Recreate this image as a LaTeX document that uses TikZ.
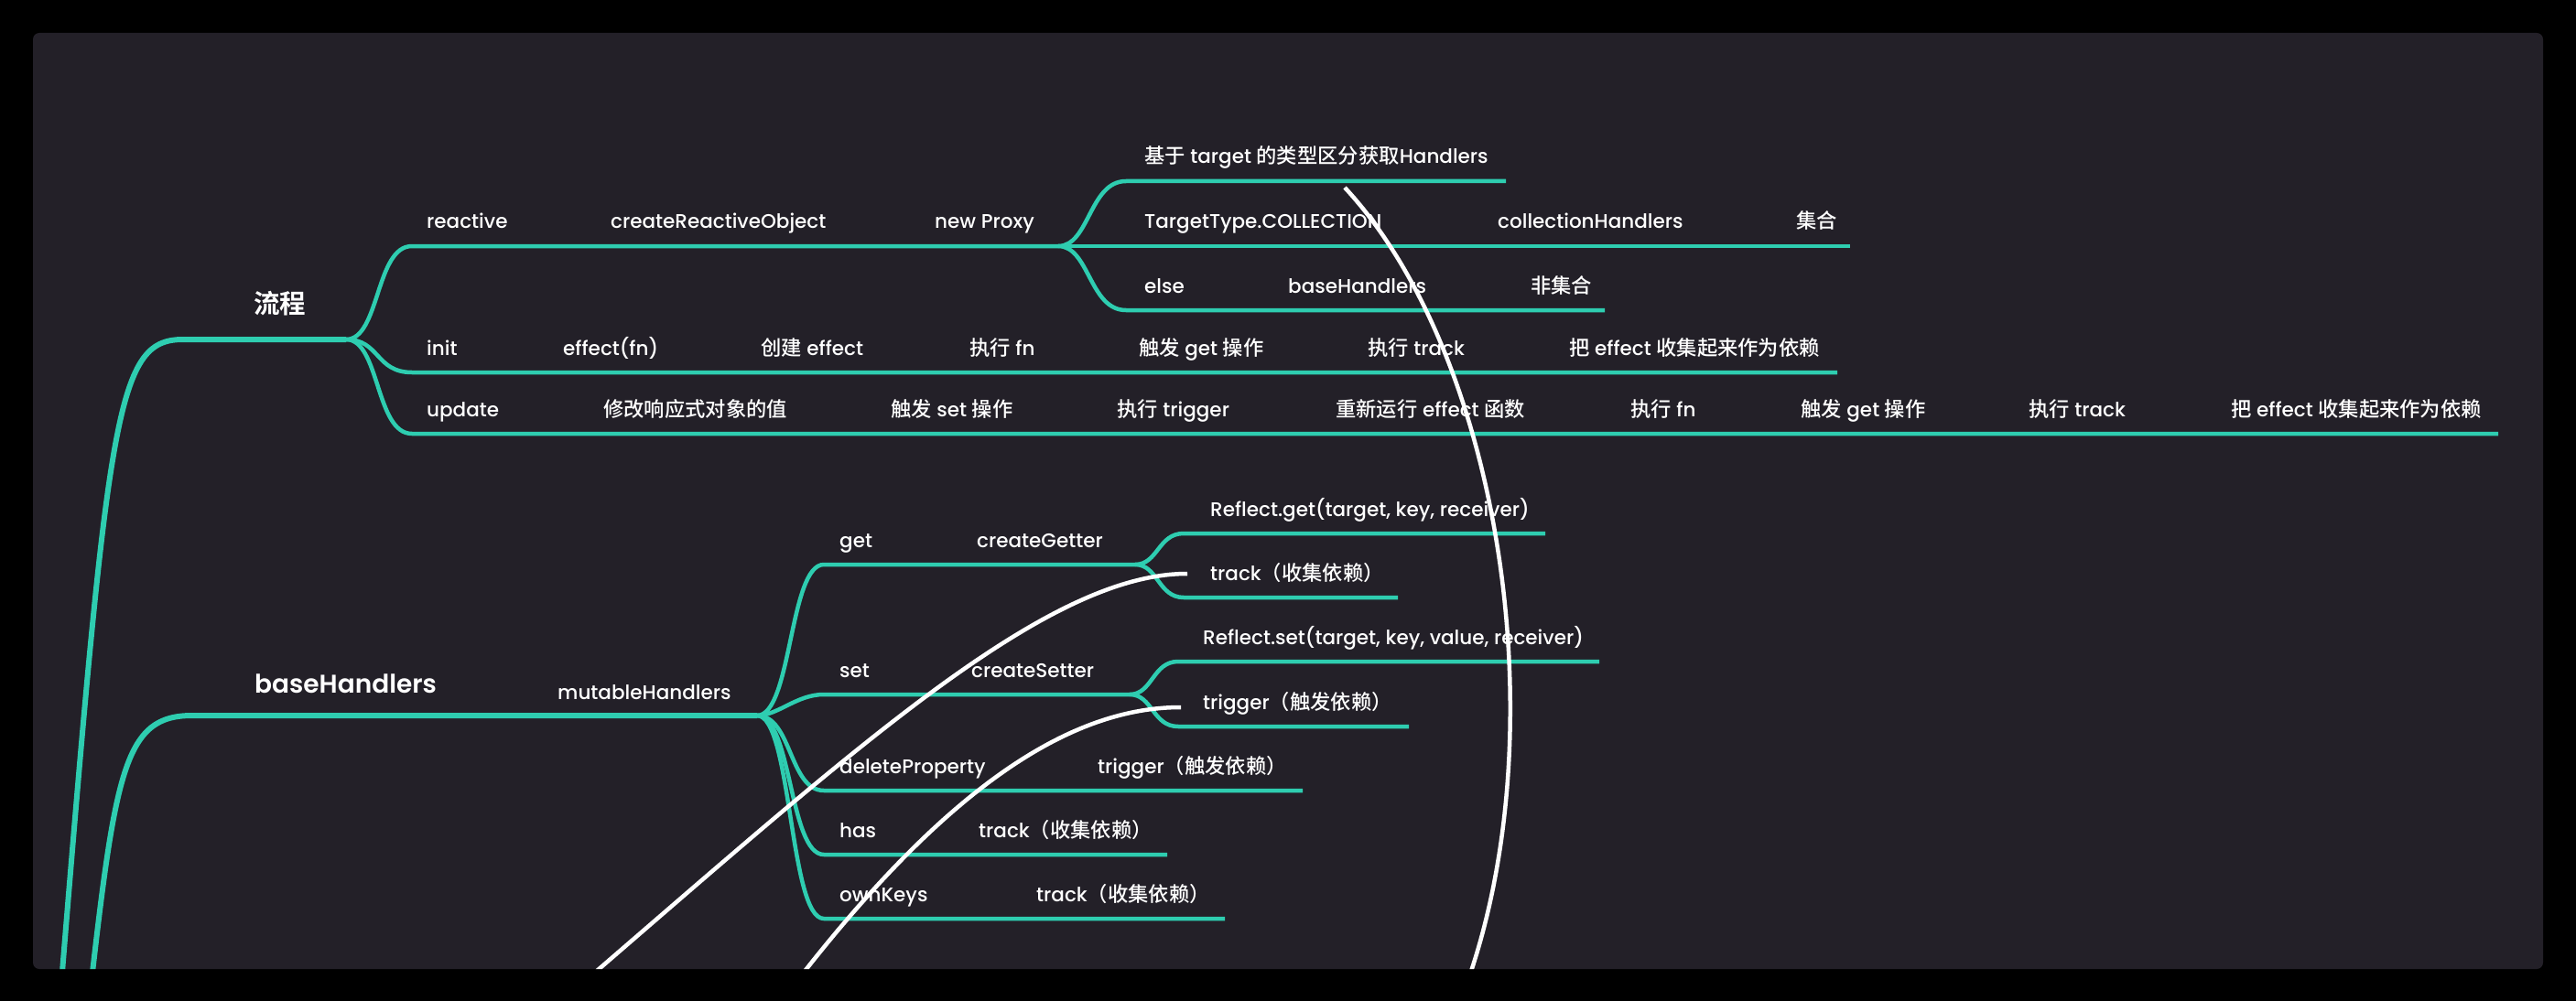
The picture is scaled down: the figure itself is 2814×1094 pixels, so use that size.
\documentclass[tikz,border=0pt]{standalone}
\usepackage{fontspec}
\setmainfont{Poppins}[UprightFont={* Medium}, BoldFont={* SemiBold}]
\newfontfamily\cjk{Noto Sans CJK SC}[UprightFont={* Medium}, BoldFont={* Bold}]
\definecolor{outerbg}{RGB}{0,0,0}
\definecolor{panelbg}{RGB}{35,32,40}
\definecolor{mmteal}{RGB}{46,205,176}
\newcommand{\zh}[1]{{\cjk\fontsize{22.3}{25}\selectfont #1}}
\begin{document}
\begin{tikzpicture}[x=1pt,y=-1pt,
  lbl/.style={anchor=base west, inner sep=0pt, text=white, font=\fontsize{21.5}{25}\selectfont},
  topic/.style={anchor=base west, inner sep=0pt, text=white, font=\fontsize{28}{32}\selectfont\bfseries},
  br/.style={draw=mmteal, line width=4.5pt},
  mainbr/.style={draw=mmteal, line width=6pt},
  rel/.style={draw=white, line width=4.5pt},
]
\fill[outerbg] (0,0) rectangle (2814,1094);
\fill[panelbg, rounded corners=7pt] (36,36) rectangle (2778,1059);
\begin{scope}
\clip[rounded corners=7pt] (36,36) rectangle (2778,1059);

% ---------- coordinates ----------
\coordinate (rootA) at (60,1160);
\coordinate (rootB) at (90,1160);
\coordinate (lcSplit) at (378,371);
\coordinate (npSplit) at (1156,269);
\coordinate (collEnd) at (2021,269);
\coordinate (basedEnd) at (1645,198);
\coordinate (elseEnd) at (1753,339);
\coordinate (initEnd) at (2007,407);
\coordinate (updEnd) at (2729,474);
\coordinate (bhSplit) at (827,782);
\coordinate (getSplit) at (1240,617);
\coordinate (setSplit) at (1234,759);
\coordinate (rgEnd) at (1688,583);
\coordinate (tgEnd) at (1527,653);
\coordinate (rsEnd) at (1747,723);
\coordinate (trEnd) at (1539,794);
\coordinate (delEnd) at (1423,864);
\coordinate (hasEnd) at (1275,934);
\coordinate (okEnd) at (1338,1004);

% ---------- teal branches ----------
\draw[mainbr] (rootA) .. controls (118,450) and (125,371) .. (200,371) -- (lcSplit);
\draw[mainbr] (rootB) .. controls (125,850) and (130,782) .. (210,782) -- (bhSplit);

\draw[br] (lcSplit) .. controls (415,371) and (410,269) .. (450,269) -- (npSplit);
\draw[br] (lcSplit) .. controls (415,371) and (410,407) .. (450,407) -- (initEnd);
\draw[br] (lcSplit) .. controls (415,371) and (410,474) .. (450,474) -- (updEnd);

\draw[br] (npSplit) .. controls (1190,269) and (1190,198) .. (1230,198) -- (basedEnd);
\draw[br] (npSplit) -- (collEnd);
\draw[br] (npSplit) .. controls (1190,269) and (1190,339) .. (1230,339) -- (elseEnd);

\draw[br] (bhSplit) .. controls (865,782) and (862,617) .. (900,617) -- (getSplit);
\draw[br] (bhSplit) .. controls (850,782) and (870,759) .. (900,759) -- (setSplit);
\draw[br] (bhSplit) .. controls (865,782) and (862,864) .. (900,864) -- (delEnd);
\draw[br] (bhSplit) .. controls (865,782) and (862,934) .. (900,934) -- (hasEnd);
\draw[br] (bhSplit) .. controls (865,782) and (862,1004) .. (900,1004) -- (okEnd);

\draw[br] (getSplit) .. controls (1265,617) and (1265,583) .. (1293,583) -- (rgEnd);
\draw[br] (getSplit) .. controls (1265,617) and (1265,653) .. (1293,653) -- (tgEnd);
\draw[br] (setSplit) .. controls (1259,759) and (1259,723) .. (1287,723) -- (rsEnd);
\draw[br] (setSplit) .. controls (1259,759) and (1259,794) .. (1287,794) -- (trEnd);

% ---------- labels ----------
\node[topic] (liucheng) at (277,342) {\cjk\fontsize{28.5}{32}\selectfont 流程};
\node[topic] (baseH) at (278,757) {baseHandlers};

\node[lbl] (reactive) at (466,250) {reactive};
\node[lbl] (createRO) at (667,250) {createReactiveObject};
\node[lbl] (newProxy) at (1021,250) {new Proxy};
\node[lbl] (basedOn) at (1250,179) {\zh{基于} target \zh{的类型区分获取}Handlers};
\node[lbl] (ttColl) at (1250,250) {TargetType.COLLECTION};
\node[lbl] (collH) at (1636,250) {collectionHandlers};
\node[lbl] (jihe) at (1962,250) {\zh{集合}};
\node[lbl] (nElse) at (1250,320) {else};
\node[lbl] (bhB) at (1407,320) {baseHandlers};
\node[lbl] (feijihe) at (1672,320) {\zh{非集合}};

\node[lbl] (init) at (466,388) {init};
\node[lbl] (effFn) at (615,388) {effect(fn)};
\node[lbl] (mkEff) at (831,388) {\zh{创建} effect};
\node[lbl] (runFnA) at (1059,388) {\zh{执行} fn};
\node[lbl] (getOpA) at (1244,388) {\zh{触发} get \zh{操作}};
\node[lbl] (trackA) at (1494,388) {\zh{执行} track};
\node[lbl] (collectA) at (1714,388) {\zh{把} effect \zh{收集起来作为依赖}};

\node[lbl] (update) at (466,455) {update};
\node[lbl] (modVal) at (659,455) {\zh{修改响应式对象的值}};
\node[lbl] (setOp) at (973,455) {\zh{触发} set \zh{操作}};
\node[lbl] (runTrig) at (1220,455) {\zh{执行} trigger};
\node[lbl] (rerun) at (1459,455) {\zh{重新运行} effect \zh{函数}};
\node[lbl] (runFnB) at (1781,455) {\zh{执行} fn};
\node[lbl] (getOpB) at (1967,455) {\zh{触发} get \zh{操作}};
\node[lbl] (trackB) at (2216,455) {\zh{执行} track};
\node[lbl] (collectB) at (2437,455) {\zh{把} effect \zh{收集起来作为依赖}};

\node[lbl] (mutH) at (609,764) {mutableHandlers};

\node[lbl] (get) at (917,598) {get};
\node[lbl] (cGetter) at (1067,598) {createGetter};
\node[lbl] (rGet) at (1322,564) {Reflect.get(target, key, receiver)};
\node[lbl] (tGet) at (1322,634) {track\zh{（收集依赖）}};

\node[lbl] (set) at (917,740) {set};
\node[lbl] (cSetter) at (1061,740) {createSetter};
\node[lbl] (rSet) at (1314,704) {Reflect.set(target, key, value, receiver)};
\node[lbl] (tSet) at (1314,775) {trigger\zh{（触发依赖）}};

\node[lbl] (delP) at (917,845) {deleteProperty};
\node[lbl] (tDel) at (1199,845) {trigger\zh{（触发依赖）}};
\node[lbl] (has) at (917,915) {has};
\node[lbl] (tHas) at (1069,915) {track\zh{（收集依赖）}};
\node[lbl] (ownK) at (917,985) {ownKeys};
\node[lbl] (tOwn) at (1132,985) {track\zh{（收集依赖）}};

% ---------- white relation lines ----------
\coordinate (relA0) at (1469,205);
\coordinate (relA1) at (1580,1130);
\coordinate (relB0) at (1297,627);
\coordinate (relB1) at (560,1140);
\coordinate (relC0) at (1290,773);
\coordinate (relC1) at (820,1140);
\draw[rel] (relA0) .. controls (1650,400) and (1710,850) .. (relA1);
\draw[rel] (relB0) .. controls (1130,627) and (900,850) .. (relB1);
\draw[rel] (relC0) .. controls (1150,773) and (1000,890) .. (relC1);
\end{scope}
\end{tikzpicture}
\end{document}
